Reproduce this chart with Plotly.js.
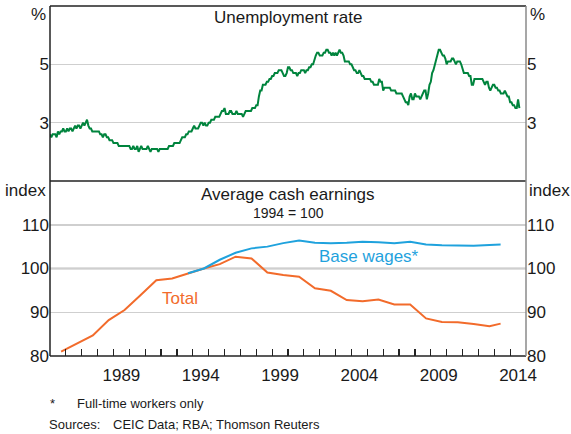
<!DOCTYPE html>
<html>
<head>
<meta charset="utf-8">
<script src="https://cdn.plot.ly/plotly-3.0.1.min.js"></script>
<style>
html,body{margin:0;padding:0;background:#fff;}
#chart{width:571px;height:434px;}
</style>
</head>
<body>
<div id="chart"></div>
<script>
// ---- DATA ----
// Unemployment rate, monthly, starting Jan 1985 (per cent)
const unempStart = 1985;
const unemp1985 = [2.6,2.5,2.6,2.6,2.6,2.5,2.7,2.6,2.7,2.7,2.8,2.7];
const unemp1986 = [2.7,2.8,2.7,2.8,2.8,2.7,2.8,2.9,2.8,2.9,2.9,2.8];
const unemp1987 = [2.9,3.0,2.9,3.0,3.1,2.9,2.8,2.8,2.7,2.7,2.7,2.7];
const unemp1988 = [2.7,2.7,2.6,2.6,2.5,2.6,2.6,2.5,2.5,2.4,2.4,2.4];
const unemp1989 = [2.3,2.3,2.3,2.3,2.2,2.2,2.2,2.2,2.2,2.2,2.2,2.2];
const unemp1990 = [2.2,2.1,2.1,2.2,2.1,2.1,2.2,2.0,2.1,2.2,2.1,2.1];
const unemp1991 = [2.1,2.1,2.2,2.1,2.0,2.1,2.1,2.1,2.1,2.1,2.0,2.1];
const unemp1992 = [2.1,2.1,2.1,2.1,2.1,2.1,2.2,2.2,2.2,2.2,2.3,2.3];
const unemp1993 = [2.3,2.3,2.3,2.4,2.5,2.5,2.5,2.6,2.6,2.7,2.7,2.7];
const unemp1994 = [2.8,2.9,2.8,2.8,2.8,2.9,3.0,3.0,2.9,3.0,2.9,2.9];
const unemp1995 = [3.0,3.0,3.1,3.1,3.1,3.2,3.2,3.2,3.2,3.3,3.4,3.4];
const unemp1996 = [3.5,3.3,3.3,3.3,3.4,3.4,3.3,3.3,3.3,3.4,3.3,3.3];
const unemp1997 = [3.3,3.3,3.2,3.3,3.4,3.4,3.4,3.4,3.4,3.5,3.5,3.5];
const unemp1998 = [3.6,3.6,3.9,4.1,4.1,4.3,4.3,4.3,4.4,4.4,4.5,4.5];
const unemp1999 = [4.6,4.6,4.7,4.7,4.7,4.8,4.8,4.8,4.7,4.6,4.6,4.7];
const unemp2000 = [4.9,4.9,4.8,4.8,4.7,4.7,4.7,4.6,4.7,4.7,4.8,4.8];
const unemp2001 = [4.8,4.7,4.8,4.8,4.9,4.9,5.0,5.0,5.2,5.3,5.4,5.4];
const unemp2002 = [5.3,5.3,5.3,5.4,5.4,5.5,5.5,5.4,5.4,5.3,5.4,5.3];
const unemp2003 = [5.4,5.3,5.4,5.5,5.4,5.4,5.3,5.1,5.1,5.1,5.1,5.0];
const unemp2004 = [5.0,4.9,4.8,4.8,4.7,4.7,4.8,4.7,4.6,4.6,4.5,4.5];
const unemp2005 = [4.5,4.5,4.5,4.4,4.4,4.3,4.3,4.3,4.3,4.5,4.4,4.4];
const unemp2006 = [4.1,4.2,4.2,4.2,4.2,4.2,4.1,4.1,4.1,4.1,4.0,4.0];
const unemp2007 = [4.0,4.0,4.0,3.9,3.8,3.7,3.7,3.6,3.9,4.0,3.8,3.8];
const unemp2008 = [4.0,3.9,3.9,3.9,3.8,3.9,4.0,4.1,4.1,3.8,4.0,4.3];
const unemp2009 = [4.4,4.7,4.8,5.0,5.2,5.4,5.5,5.5,5.4,5.3,5.3,5.2];
const unemp2010 = [5.0,5.1,5.1,5.1,5.2,5.2,5.1,5.0,5.1,5.1,5.1,5.0];
const unemp2011 = [4.8,4.7,4.7,4.7,4.7,4.6,4.6,4.3,4.3,4.5,4.5,4.5];
const unemp2012 = [4.5,4.5,4.5,4.5,4.4,4.3,4.4,4.4,4.2,4.1,4.2,4.3];
const unemp2013 = [4.3,4.2,4.2,4.1,4.1,4.0,4.0,4.0,4.1,4.0,3.9,3.9];
const unemp2014 = [3.7,3.7,3.6,3.6,3.5,3.5,3.8,3.5];

// Average cash earnings, annual (1994 = 100); dates as decimal years
const earnDates = [1985.7,1986.7,1987.7,1988.7,1989.7,1990.7,1991.7,1992.7,1993.7,1994.7,
                   1995.7,1996.7,1997.7,1998.7,1999.7,2000.7,2001.7,2002.7,2003.7,2004.7,
                   2005.7,2006.7,2007.7,2008.7,2009.7,2010.7,2011.7,2012.7,2013.4];
const totalEarnings = [81.0,82.8,84.7,88.2,90.5,93.9,97.3,97.7,98.9,100.0,
                       101.0,102.7,102.3,99.1,98.5,98.1,95.5,94.9,92.8,92.5,
                       92.9,91.8,91.8,88.6,87.8,87.7,87.3,86.8,87.4];
const baseDates = [1993.7,1994.7,1995.7,1996.7,1997.7,1998.7,1999.7,2000.7,2001.7,2002.7,
                   2003.7,2004.7,2005.7,2006.7,2007.7,2008.7,2009.7,2010.7,2011.7,2012.7,2013.4];
const baseWages = [98.9,100.0,102.0,103.6,104.6,105.0,105.8,106.4,105.9,105.8,
                   105.9,106.1,106.0,105.8,106.1,105.5,105.3,105.2,105.2,105.4,105.5];

const yearTicks = [1986,1987,1988,1989,1990,1991,1992,1993,1994,1995,1996,1997,1998,1999,2000,
                   2001,2002,2003,2004,2005,2006,2007,2008,2009,2010,2011,2012,2013,2014];
const yearLabels = ['1989','1994','1999','2004','2009','2014'];
const unempTicks = [3,5];
const indexTicks = [80,90,100,110];
const baseIndex = 100;

// ---- BUILD ----
const unemp = [].concat(unemp1985,unemp1986,unemp1987,unemp1988,unemp1989,unemp1990,unemp1991,
  unemp1992,unemp1993,unemp1994,unemp1995,unemp1996,unemp1997,unemp1998,unemp1999,unemp2000,
  unemp2001,unemp2002,unemp2003,unemp2004,unemp2005,unemp2006,unemp2007,unemp2008,unemp2009,
  unemp2010,unemp2011,unemp2012,unemp2013,unemp2014);
const unempX = unemp.map((v,i)=>unempStart + i/12);

const FONT = 'Arial, "Liberation Sans", Helvetica, sans-serif';
const TXT = '#1a1a1a';
const GREEN = '#00843d', ORANGE = '#f26b2b', BLUE = '#1fa2dd';

const traces = [
  {x: unempX, y: unemp, xaxis:'x2', yaxis:'y', mode:'lines', line:{color:GREEN, width:2}, hoverinfo:'skip'},
  {x: earnDates, y: totalEarnings, xaxis:'x', yaxis:'y2', mode:'lines', line:{color:ORANGE, width:2}, hoverinfo:'skip'},
  {x: baseDates, y: baseWages, xaxis:'x', yaxis:'y2', mode:'lines', line:{color:BLUE, width:2}, hoverinfo:'skip'},
  // invisible copies so right-hand axes are drawn
  {x: unempX, y: unemp, xaxis:'x2', yaxis:'y3', mode:'lines', line:{width:0}, opacity:0, hoverinfo:'skip'},
  {x: earnDates, y: totalEarnings, xaxis:'x', yaxis:'y4', mode:'lines', line:{width:0}, opacity:0, hoverinfo:'skip'}
];

const labelVals = yearLabels.map(s=>Number(s)+0.5);
const tickFont = {family:FONT, size:17, color:TXT};
const xr = [1985, 2015];

function note(text, xpx, ypx, size, anchor, color){
  return {text:text, xref:'paper', yref:'paper', x:(xpx-50)/476, y:(356-ypx)/350,
          xanchor:anchor, yanchor:'middle', showarrow:false, borderpad:0,
          font:{size:size, color:color||TXT}};
}

const layout = {
  width:571, height:434,
  margin:{l:50, r:45, t:6, b:78},
  paper_bgcolor:'#fff', plot_bgcolor:'#fff',
  showlegend:false,
  font:{family:FONT, color:TXT},
  xaxis:{domain:[0,1], anchor:'y2', range:xr, tickmode:'array', tickvals:labelVals, ticktext:yearLabels,
         ticks:'', ticklabelstandoff:7, showgrid:false, zeroline:false, showline:false, tickfont:tickFont,
         minor:{tickmode:'array', tickvals:yearTicks, ticks:'inside', ticklen:7, tickwidth:1.2, tickcolor:'#222', showgrid:false}},
  xaxis2:{domain:[0,1], anchor:'y', range:xr, showticklabels:false, ticks:'', showgrid:false, zeroline:false, showline:false},
  yaxis:{domain:[0.5,1], anchor:'x2', range:[1,7], tickmode:'array', tickvals:unempTicks, ticks:'',
         showgrid:true, gridcolor:'#cfcfcf', gridwidth:1.5, zeroline:false, showline:false, tickfont:tickFont},
  yaxis3:{overlaying:'y', side:'right', anchor:'x2', range:[1,7], tickmode:'array', tickvals:unempTicks, ticks:'',
         showgrid:false, zeroline:false, showline:false, tickfont:tickFont},
  yaxis2:{domain:[0,0.5], anchor:'x', range:[80,120], tickmode:'array', tickvals:indexTicks, ticks:'',
         showgrid:true, gridcolor:'#cfcfcf', gridwidth:1.5, zeroline:false, showline:false, tickfont:tickFont},
  yaxis4:{overlaying:'y2', side:'right', anchor:'x', range:[80,120], tickmode:'array', tickvals:indexTicks, ticks:'',
         showgrid:false, zeroline:false, showline:false, tickfont:tickFont},
  shapes:[
    {type:'line', xref:'paper', yref:'y2', x0:0, x1:1, y0:baseIndex, y1:baseIndex, line:{color:'#7f7f7f', width:1.6}, layer:'below'},
    {type:'line', xref:'paper', yref:'paper', x0:0, x1:1, y0:1, y1:1, line:{color:'#222', width:1.5}},
    {type:'line', xref:'paper', yref:'paper', x0:0, x1:1, y0:0.5, y1:0.5, line:{color:'#222', width:1.5}},
    {type:'line', xref:'paper', yref:'paper', x0:0, x1:1, y0:0, y1:0, line:{color:'#222', width:1.5}},
    {type:'line', xref:'paper', yref:'paper', x0:0, x1:0, y0:0, y1:1, line:{color:'#222', width:1.5}},
    {type:'line', xref:'paper', yref:'paper', x0:1, x1:1, y0:0, y1:1, line:{color:'#8a8a8a', width:1.5}}
  ],
  annotations:[
    note('Unemployment rate', 288, 17, 17, 'center'),
    note('Average cash earnings', 288, 194, 17, 'center'),
    note('1994 = 100', 288, 213, 14, 'center'),
    note('%', 47, 14, 17, 'right'),
    note('%', 529, 14, 17, 'left'),
    note('index', 47, 190, 17, 'right'),
    note('index', 528, 190, 17, 'left'),
    {text:'Base wages*', xref:'x', yref:'y2', x:2005.1, y:102.8, xanchor:'center', yanchor:'middle', showarrow:false, font:{size:17, color:BLUE}},
    {text:'Total', xref:'x', yref:'y2', x:1993.2, y:93.2, xanchor:'center', yanchor:'middle', showarrow:false, font:{size:17, color:ORANGE}},
    note('*', 49, 403, 13, 'left'),
    note('Full-time workers only', 76, 403, 13, 'left'),
    note('Sources:', 48, 424, 13, 'left'),
    note('CEIC Data; RBA; Thomson Reuters', 112, 424, 13, 'left')
  ]
};

Plotly.newPlot('chart', traces, layout, {staticPlot:true, displayModeBar:false});
</script>
</body>
</html>
